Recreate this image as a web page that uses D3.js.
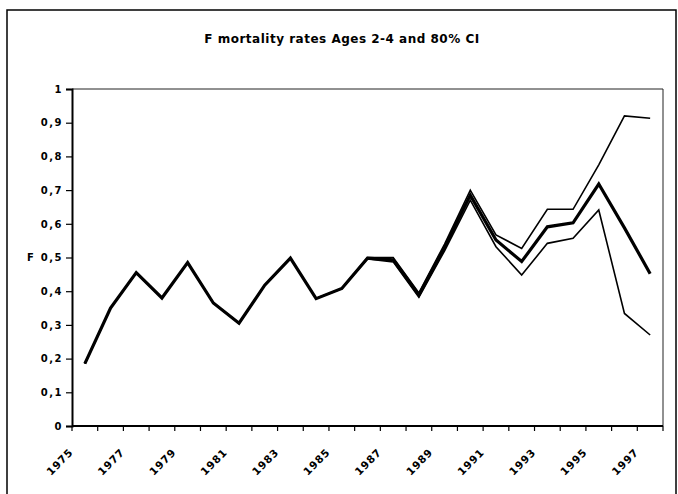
<!DOCTYPE html>
<html>
<head>
<meta charset="utf-8">
<script src="https://cdn.jsdelivr.net/npm/d3@7"></script>
<style>
  html, body { margin: 0; padding: 0; background: #fff; }
  svg { display: block; }
  text { font-family: "DejaVu Sans", "Liberation Sans", sans-serif; font-weight: bold; fill: #000; }
</style>
</head>
<body>
<svg id="chart" width="678" height="494"></svg>
<script>
// ---- data ----
const title = "F mortality rates Ages 2-4 and 80% CI";
const years = [1975,1976,1977,1978,1979,1980,1981,1982,1983,1984,1985,1986,1987,1988,1989,1990,1991,1992,1993,1994,1995,1996,1997];
const upper = [0.185,0.35,0.455,0.38,0.485,0.365,0.305,0.418,0.498,0.378,0.408,0.50,0.50,0.395,0.54,0.70,0.567,0.527,0.643,0.643,0.775,0.92,0.913];
const estimate = [0.185,0.35,0.455,0.38,0.485,0.365,0.305,0.418,0.498,0.378,0.408,0.498,0.493,0.389,0.53,0.685,0.552,0.488,0.591,0.603,0.718,0.588,0.452];
const lower = [0.185,0.35,0.455,0.38,0.485,0.365,0.305,0.418,0.498,0.378,0.408,0.496,0.487,0.382,0.52,0.67,0.532,0.448,0.542,0.557,0.641,0.334,0.27];
const yTicks = [0,0.1,0.2,0.3,0.4,0.5,0.6,0.7,0.8,0.9,1];
const yTickLabels = ["0","0,1","0,2","0,3","0,4","0,5","0,6","0,7","0,8","0,9","1"];
const xLabelYears = [1975,1977,1979,1981,1983,1985,1987,1989,1991,1993,1995,1997];
const yAxisTitle = "F";

// ---- layout ----
const svg = d3.select("#chart");
const plot = {left: 72, right: 663, top: 89, bottom: 426};

// outer border
svg.append("rect").attr("x", 7).attr("y", 10).attr("width", 669).attr("height", 490)
  .attr("fill", "none").attr("stroke", "#000").attr("stroke-width", 1.5);

// title
svg.append("text").attr("x", 342).attr("y", 43).attr("text-anchor", "middle")
  .style("font-size", "12px").style("letter-spacing", "0.5px").text(title);

const x = d3.scaleBand().domain(years).range([plot.left, plot.right]);
const y = d3.scaleLinear().domain([0, 1]).range([plot.bottom, plot.top]);

// plot area border (top and right)
svg.append("path")
  .attr("d", `M${plot.left},${plot.top}H${plot.right}V${plot.bottom}`)
  .attr("fill", "none").attr("stroke", "#222").attr("stroke-width", 1);

// y axis
const yAxis = d3.axisLeft(y).tickValues(yTicks).tickSize(6).tickPadding(3)
  .tickFormat((d, i) => yTickLabels[i]);
const gy = svg.append("g").attr("transform", `translate(${plot.left},0)`).call(yAxis);
gy.select(".domain").attr("stroke", "#000").attr("stroke-width", 2);
gy.selectAll(".tick line").attr("stroke", "#000").attr("stroke-width", 1.2);
gy.selectAll(".tick text").style("font-size", "10px").style("letter-spacing", "1.5px")
  .attr("font-family", null);

// y axis title
svg.append("text").attr("x", 27).attr("y", y(0.5)).attr("dy", "0.35em")
  .style("font-size", "10px").text(yAxisTitle);

// x axis: line + ticks at category boundaries
const gx = svg.append("g");
gx.append("line").attr("x1", plot.left).attr("x2", plot.right)
  .attr("y1", plot.bottom).attr("y2", plot.bottom)
  .attr("stroke", "#000").attr("stroke-width", 2);
const boundaries = years.map(d => x(d)).concat([x(years[years.length-1]) + x.bandwidth()]);
gx.selectAll("line.tk").data(boundaries).enter().append("line").attr("class", "tk")
  .attr("x1", d => d).attr("x2", d => d)
  .attr("y1", plot.bottom).attr("y2", plot.bottom + 5)
  .attr("stroke", "#000").attr("stroke-width", 1.2);
gx.selectAll("text.xl").data(xLabelYears).enter().append("text").attr("class", "xl")
  .attr("text-anchor", "end")
  .attr("transform", d => `translate(${x(d) + x.bandwidth()/2 - 11},${plot.bottom + 27}) rotate(-45)`)
  .style("font-size", "10.5px").style("letter-spacing", "0.8px")
  .text(d => d);

// lines
const line = d3.line().x((d, i) => x(years[i]) + x.bandwidth()/2).y(d => y(d));
[[upper, 1.6], [lower, 1.6], [estimate, 3.2]].forEach(([s, w]) => {
  svg.append("path").datum(s).attr("d", line)
    .attr("fill", "none").attr("stroke", "#000").attr("stroke-width", w)
    .attr("stroke-linejoin", "miter");
});
</script>
</body>
</html>
